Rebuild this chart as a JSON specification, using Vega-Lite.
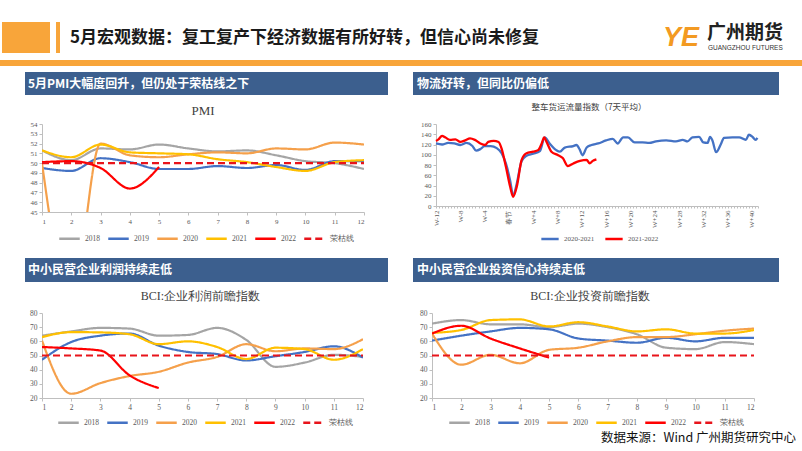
{
"$schema": "https://vega.github.io/schema/vega-lite/v6.json",
"padding": 0,
"background": "white",
"spacing": 0,
"resolve": {"scale": {"color": "independent", "strokeDash": "independent"}, "legend": {"color": "independent", "strokeDash": "independent"}},
"config": {
 "view": {"stroke": null},
 "concat": {"spacing": 0},
 "axis": {"labelFont": "Liberation Serif", "labelColor": "#595959", "labelFontSize": 7.5, "domainColor": "#BFBFBF", "tickColor": "#BFBFBF", "tickSize": 3, "grid": false, "labelPadding": 2},
 "legend": {"labelFont": "Liberation Serif", "labelColor": "#595959", "labelFontSize": 7.5, "symbolType": "stroke", "symbolStrokeWidth": 2.5, "symbolSize": 420, "labelOffset": 4, "columnPadding": 3, "padding": 0}
},
"datasets": {
 "pmi": [
  {"m":1,"s":"2018","v":51.3},{"m":2,"s":"2018","v":50.3},{"m":3,"s":"2018","v":51.5},{"m":4,"s":"2018","v":51.4},{"m":5,"s":"2018","v":51.9},{"m":6,"s":"2018","v":51.5},{"m":7,"s":"2018","v":51.2},{"m":8,"s":"2018","v":51.3},{"m":9,"s":"2018","v":50.8},{"m":10,"s":"2018","v":50.2},{"m":11,"s":"2018","v":50.0},{"m":12,"s":"2018","v":49.4},
  {"m":1,"s":"2019","v":49.5},{"m":2,"s":"2019","v":49.2},{"m":3,"s":"2019","v":50.5},{"m":4,"s":"2019","v":50.1},{"m":5,"s":"2019","v":49.4},{"m":6,"s":"2019","v":49.4},{"m":7,"s":"2019","v":49.7},{"m":8,"s":"2019","v":49.5},{"m":9,"s":"2019","v":49.8},{"m":10,"s":"2019","v":49.3},{"m":11,"s":"2019","v":50.2},{"m":12,"s":"2019","v":50.2},
  {"m":1,"s":"2020","v":50.0},{"m":2,"s":"2020","v":35.7},{"m":3,"s":"2020","v":52.0},{"m":4,"s":"2020","v":50.8},{"m":5,"s":"2020","v":50.6},{"m":6,"s":"2020","v":50.9},{"m":7,"s":"2020","v":51.1},{"m":8,"s":"2020","v":51.0},{"m":9,"s":"2020","v":51.5},{"m":10,"s":"2020","v":51.4},{"m":11,"s":"2020","v":52.1},{"m":12,"s":"2020","v":51.9},
  {"m":1,"s":"2021","v":51.3},{"m":2,"s":"2021","v":50.6},{"m":3,"s":"2021","v":51.9},{"m":4,"s":"2021","v":51.1},{"m":5,"s":"2021","v":51.0},{"m":6,"s":"2021","v":50.9},{"m":7,"s":"2021","v":50.4},{"m":8,"s":"2021","v":50.1},{"m":9,"s":"2021","v":49.6},{"m":10,"s":"2021","v":49.2},{"m":11,"s":"2021","v":50.1},{"m":12,"s":"2021","v":50.3},
  {"m":1,"s":"2022","v":50.1},{"m":2,"s":"2022","v":50.2},{"m":3,"s":"2022","v":49.5},{"m":4,"s":"2022","v":47.4},{"m":5,"s":"2022","v":49.6},
  {"m":1,"s":"荣枯线","v":50},{"m":2,"s":"荣枯线","v":50},{"m":3,"s":"荣枯线","v":50},{"m":4,"s":"荣枯线","v":50},{"m":5,"s":"荣枯线","v":50},{"m":6,"s":"荣枯线","v":50},{"m":7,"s":"荣枯线","v":50},{"m":8,"s":"荣枯线","v":50},{"m":9,"s":"荣枯线","v":50},{"m":10,"s":"荣枯线","v":50},{"m":11,"s":"荣枯线","v":50},{"m":12,"s":"荣枯线","v":50}
 ],
 "freight": [
  {"w":-12,"s":"2020-2021","v":122},{"w":-11,"s":"2020-2021","v":120},{"w":-10,"s":"2020-2021","v":123},{"w":-9,"s":"2020-2021","v":122},{"w":-8,"s":"2020-2021","v":119},{"w":-7,"s":"2020-2021","v":123},{"w":-6,"s":"2020-2021","v":117},{"w":-5.4,"s":"2020-2021","v":108},{"w":-4.7,"s":"2020-2021","v":111},{"w":-4,"s":"2020-2021","v":117},{"w":-3,"s":"2020-2021","v":117},{"w":-2,"s":"2020-2021","v":113},{"w":-1.2,"s":"2020-2021","v":103},{"w":-0.5,"s":"2020-2021","v":83},{"w":0.2,"s":"2020-2021","v":50},{"w":0.7,"s":"2020-2021","v":20},{"w":1.3,"s":"2020-2021","v":44},{"w":2.1,"s":"2020-2021","v":88},{"w":2.9,"s":"2020-2021","v":98},{"w":4,"s":"2020-2021","v":102},{"w":5.1,"s":"2020-2021","v":107},{"w":5.9,"s":"2020-2021","v":134},{"w":6.7,"s":"2020-2021","v":122},{"w":7.8,"s":"2020-2021","v":109},{"w":8.4,"s":"2020-2021","v":106},{"w":9.2,"s":"2020-2021","v":114},{"w":10.6,"s":"2020-2021","v":117},{"w":11.1,"s":"2020-2021","v":119},{"w":11.7,"s":"2020-2021","v":109},{"w":12.1,"s":"2020-2021","v":99},{"w":12.8,"s":"2020-2021","v":114},{"w":13.6,"s":"2020-2021","v":119},{"w":14.7,"s":"2020-2021","v":122},{"w":16,"s":"2020-2021","v":128},{"w":17.1,"s":"2020-2021","v":131},{"w":17.9,"s":"2020-2021","v":122},{"w":18.8,"s":"2020-2021","v":134},{"w":19.6,"s":"2020-2021","v":134},{"w":20.7,"s":"2020-2021","v":124},{"w":22,"s":"2020-2021","v":124},{"w":23.1,"s":"2020-2021","v":123},{"w":24.2,"s":"2020-2021","v":126},{"w":25.9,"s":"2020-2021","v":128},{"w":27.5,"s":"2020-2021","v":126},{"w":28.6,"s":"2020-2021","v":129},{"w":29.4,"s":"2020-2021","v":126},{"w":30.2,"s":"2020-2021","v":134},{"w":31.3,"s":"2020-2021","v":135},{"w":32,"s":"2020-2021","v":124},{"w":32.7,"s":"2020-2021","v":123},{"w":33.1,"s":"2020-2021","v":135},{"w":33.5,"s":"2020-2021","v":128},{"w":34.1,"s":"2020-2021","v":105},{"w":34.9,"s":"2020-2021","v":121},{"w":35.4,"s":"2020-2021","v":133},{"w":36.8,"s":"2020-2021","v":134},{"w":37.9,"s":"2020-2021","v":134},{"w":39,"s":"2020-2021","v":129},{"w":39.5,"s":"2020-2021","v":139},{"w":40.1,"s":"2020-2021","v":135},{"w":40.6,"s":"2020-2021","v":129},{"w":40.9,"s":"2020-2021","v":133},
  {"w":-12,"s":"2021-2022","v":127},{"w":-11.6,"s":"2021-2022","v":130},{"w":-11,"s":"2021-2022","v":137},{"w":-10.5,"s":"2021-2022","v":134},{"w":-9.7,"s":"2021-2022","v":129},{"w":-8.8,"s":"2021-2022","v":130},{"w":-8,"s":"2021-2022","v":125},{"w":-7.2,"s":"2021-2022","v":128},{"w":-6.4,"s":"2021-2022","v":132},{"w":-5.6,"s":"2021-2022","v":129},{"w":-4.7,"s":"2021-2022","v":122},{"w":-3.9,"s":"2021-2022","v":119},{"w":-3.4,"s":"2021-2022","v":125},{"w":-2.5,"s":"2021-2022","v":127},{"w":-1.7,"s":"2021-2022","v":125},{"w":-1.2,"s":"2021-2022","v":112},{"w":-0.5,"s":"2021-2022","v":77},{"w":0.2,"s":"2021-2022","v":38},{"w":0.7,"s":"2021-2022","v":18},{"w":1.3,"s":"2021-2022","v":38},{"w":2.1,"s":"2021-2022","v":90},{"w":2.9,"s":"2021-2022","v":103},{"w":4,"s":"2021-2022","v":106},{"w":4.8,"s":"2021-2022","v":109},{"w":5.4,"s":"2021-2022","v":122},{"w":5.8,"s":"2021-2022","v":134},{"w":6.2,"s":"2021-2022","v":125},{"w":7,"s":"2021-2022","v":106},{"w":8.1,"s":"2021-2022","v":99},{"w":8.9,"s":"2021-2022","v":93},{"w":9.7,"s":"2021-2022","v":78},{"w":10.6,"s":"2021-2022","v":83},{"w":11.7,"s":"2021-2022","v":88},{"w":12.8,"s":"2021-2022","v":90},{"w":13.3,"s":"2021-2022","v":83},{"w":13.8,"s":"2021-2022","v":88},{"w":14.4,"s":"2021-2022","v":91}
 ],
 "profit": [
  {"m":1,"s":"2018","v":64},{"m":2,"s":"2018","v":67},{"m":3,"s":"2018","v":69.5},{"m":4,"s":"2018","v":69},{"m":5,"s":"2018","v":64},{"m":6,"s":"2018","v":64.5},{"m":7,"s":"2018","v":69.5},{"m":8,"s":"2018","v":61},{"m":9,"s":"2018","v":42},{"m":10,"s":"2018","v":45},{"m":11,"s":"2018","v":50.5},{"m":12,"s":"2018","v":49},
  {"m":1,"s":"2019","v":47},{"m":2,"s":"2019","v":59.5},{"m":3,"s":"2019","v":64},{"m":4,"s":"2019","v":65.5},{"m":5,"s":"2019","v":57},{"m":6,"s":"2019","v":52.5},{"m":7,"s":"2019","v":51},{"m":8,"s":"2019","v":46.5},{"m":9,"s":"2019","v":49.5},{"m":10,"s":"2019","v":52.5},{"m":11,"s":"2019","v":56.5},{"m":12,"s":"2019","v":48.5},
  {"m":1,"s":"2020","v":60.5},{"m":2,"s":"2020","v":23},{"m":3,"s":"2020","v":30.5},{"m":4,"s":"2020","v":35.5},{"m":5,"s":"2020","v":38.5},{"m":6,"s":"2020","v":45},{"m":7,"s":"2020","v":49},{"m":8,"s":"2020","v":58},{"m":9,"s":"2020","v":53},{"m":10,"s":"2020","v":55},{"m":11,"s":"2020","v":54.5},{"m":12,"s":"2020","v":61.5},
  {"m":1,"s":"2021","v":63},{"m":2,"s":"2021","v":66.5},{"m":3,"s":"2021","v":66.3},{"m":4,"s":"2021","v":65},{"m":5,"s":"2021","v":58},{"m":6,"s":"2021","v":60},{"m":7,"s":"2021","v":56},{"m":8,"s":"2021","v":47.5},{"m":9,"s":"2021","v":55.5},{"m":10,"s":"2021","v":54.5},{"m":11,"s":"2021","v":47},{"m":12,"s":"2021","v":54.5},
  {"m":1,"s":"2022","v":56},{"m":2,"s":"2022","v":55},{"m":3,"s":"2022","v":53.5},{"m":4,"s":"2022","v":36},{"m":5,"s":"2022","v":27},
  {"m":1,"s":"荣枯线","v":50},{"m":2,"s":"荣枯线","v":50},{"m":3,"s":"荣枯线","v":50},{"m":4,"s":"荣枯线","v":50},{"m":5,"s":"荣枯线","v":50},{"m":6,"s":"荣枯线","v":50},{"m":7,"s":"荣枯线","v":50},{"m":8,"s":"荣枯线","v":50},{"m":9,"s":"荣枯线","v":50},{"m":10,"s":"荣枯线","v":50},{"m":11,"s":"荣枯线","v":50},{"m":12,"s":"荣枯线","v":50}
 ],
 "invest": [
  {"m":1,"s":"2018","v":72.5},{"m":2,"s":"2018","v":75},{"m":3,"s":"2018","v":72},{"m":4,"s":"2018","v":72},{"m":5,"s":"2018","v":70},{"m":6,"s":"2018","v":72.5},{"m":7,"s":"2018","v":70},{"m":8,"s":"2018","v":65},{"m":9,"s":"2018","v":55.5},{"m":10,"s":"2018","v":54.5},{"m":11,"s":"2018","v":59.5},{"m":12,"s":"2018","v":58},
  {"m":1,"s":"2019","v":60.5},{"m":2,"s":"2019","v":64},{"m":3,"s":"2019","v":67},{"m":4,"s":"2019","v":69.5},{"m":5,"s":"2019","v":68.5},{"m":6,"s":"2019","v":62},{"m":7,"s":"2019","v":60.5},{"m":8,"s":"2019","v":59},{"m":9,"s":"2019","v":62.5},{"m":10,"s":"2019","v":60},{"m":11,"s":"2019","v":62.5},{"m":12,"s":"2019","v":62.5},
  {"m":1,"s":"2020","v":65.5},{"m":2,"s":"2020","v":43.5},{"m":3,"s":"2020","v":50.5},{"m":4,"s":"2020","v":44.5},{"m":5,"s":"2020","v":54},{"m":6,"s":"2020","v":55.5},{"m":7,"s":"2020","v":60},{"m":8,"s":"2020","v":63},{"m":9,"s":"2020","v":63},{"m":10,"s":"2020","v":65},{"m":11,"s":"2020","v":67.5},{"m":12,"s":"2020","v":69},
  {"m":1,"s":"2021","v":66},{"m":2,"s":"2021","v":68},{"m":3,"s":"2021","v":75},{"m":4,"s":"2021","v":75.5},{"m":5,"s":"2021","v":70.5},{"m":6,"s":"2021","v":73.5},{"m":7,"s":"2021","v":70.5},{"m":8,"s":"2021","v":67},{"m":9,"s":"2021","v":68.5},{"m":10,"s":"2021","v":65.5},{"m":11,"s":"2021","v":65.5},{"m":12,"s":"2021","v":68},
  {"m":1,"s":"2022","v":65.5},{"m":2,"s":"2022","v":71},{"m":3,"s":"2022","v":62},{"m":4,"s":"2022","v":55},{"m":5,"s":"2022","v":48.5},
  {"m":1,"s":"荣枯线","v":50},{"m":2,"s":"荣枯线","v":50},{"m":3,"s":"荣枯线","v":50},{"m":4,"s":"荣枯线","v":50},{"m":5,"s":"荣枯线","v":50},{"m":6,"s":"荣枯线","v":50},{"m":7,"s":"荣枯线","v":50},{"m":8,"s":"荣枯线","v":50},{"m":9,"s":"荣枯线","v":50},{"m":10,"s":"荣枯线","v":50},{"m":11,"s":"荣枯线","v":50},{"m":12,"s":"荣枯线","v":50}
 ]
},
"vconcat": [
 {"width": 802, "height": 22, "data": {"values": []}, "mark": "text", "encoding": {"text": {"value": ""}}},
 {"bounds": "flush", "hconcat": [
  {"width": 2, "height": 31, "data": {"values": []}, "mark": "text", "encoding": {"text": {"value": ""}}},
  {"width": 48, "height": 31, "view": {"fill": "#F8A53A", "stroke": null}, "data": {"values": []}, "mark": "text", "encoding": {"text": {"value": ""}}},
  {"width": 6, "height": 31, "data": {"values": []}, "mark": "text", "encoding": {"text": {"value": ""}}},
  {"width": 4, "height": 31, "view": {"fill": "#F8A53A", "stroke": null}, "data": {"values": []}, "mark": "text", "encoding": {"text": {"value": ""}}},
  {"width": 8, "height": 31, "data": {"values": []}, "mark": "text", "encoding": {"text": {"value": ""}}},
  {"width": 590, "height": 31, "data": {"values": [{}]}, "mark": {"type": "text", "align": "left", "baseline": "middle", "dx": 2, "fontSize": 17, "fontWeight": "bold", "font": "Noto Sans CJK SC", "color": "#1A1A1A"}, "encoding": {"x": {"datum": 0, "type": "quantitative", "scale": {"domain": [0, 1]}, "axis": null}, "text": {"value": "5月宏观数据：复工复产下经济数据有所好转，但信心尚未修复"}}},
  {"width": 46, "height": 31, "data": {"values": [{}]}, "mark": {"type": "text", "baseline": "middle", "fontSize": 27, "fontWeight": "bold", "fontStyle": "italic", "font": "Liberation Sans", "color": "#F39A22"}, "encoding": {"text": {"value": "YE"}}},
  {"width": 92, "height": 31, "data": {"values": [{}]}, "layer": [
   {"mark": {"type": "text", "align": "left", "baseline": "middle", "dx": 3, "dy": -5, "fontSize": 19, "fontWeight": "bold", "font": "Noto Sans CJK SC", "color": "#222222"}, "encoding": {"x": {"datum": 0, "type": "quantitative", "scale": {"domain": [0, 1]}, "axis": null}, "text": {"value": "广州期货"}}},
   {"mark": {"type": "text", "align": "left", "baseline": "middle", "dx": 4, "dy": 10, "fontSize": 6.5, "font": "Liberation Sans", "color": "#333333"}, "encoding": {"x": {"datum": 0, "type": "quantitative", "scale": {"domain": [0, 1]}, "axis": null}, "text": {"value": "GUANGZHOU  FUTURES"}}}
  ]}
 ]},
 {"width": 802, "height": 7, "data": {"values": []}, "mark": "text", "encoding": {"text": {"value": ""}}},
 {"width": 802, "height": 6, "view": {"fill": "#F8A53A", "stroke": null}, "data": {"values": []}, "mark": "text", "encoding": {"text": {"value": ""}}},
 {"width": 802, "height": 6, "data": {"values": []}, "mark": "text", "encoding": {"text": {"value": ""}}},
 {"bounds": "flush", "hconcat": [
  {"width": 25, "height": 23, "data": {"values": []}, "mark": "text", "encoding": {"text": {"value": ""}}},
  {"width": 363, "height": 23, "view": {"fill": "#3C5F8E", "stroke": null}, "data": {"values": [{}]}, "mark": {"type": "text", "align": "left", "baseline": "middle", "dx": 3, "fontSize": 12, "fontWeight": "bold", "font": "Noto Sans CJK SC", "color": "white"}, "encoding": {"x": {"datum": 0, "type": "quantitative", "scale": {"domain": [0, 1]}, "axis": null}, "text": {"value": "5月PMI大幅度回升，但仍处于荣枯线之下"}}},
  {"width": 25, "height": 23, "data": {"values": []}, "mark": "text", "encoding": {"text": {"value": ""}}},
  {"width": 366, "height": 23, "view": {"fill": "#3C5F8E", "stroke": null}, "data": {"values": [{}]}, "mark": {"type": "text", "align": "left", "baseline": "middle", "dx": 4, "fontSize": 12, "fontWeight": "bold", "font": "Noto Sans CJK SC", "color": "white"}, "encoding": {"x": {"datum": 0, "type": "quantitative", "scale": {"domain": [0, 1]}, "axis": null}, "text": {"value": "物流好转，但同比仍偏低"}}}
 ]},
 {"bounds": "flush", "hconcat": [
  {"width": 42, "height": 25, "data": {"values": []}, "mark": "text", "encoding": {"text": {"value": ""}}},
  {"width": 322, "height": 25, "data": {"values": [{}]}, "mark": {"type": "text", "baseline": "middle", "dy": 3.5, "fontSize": 13, "font": "Liberation Serif", "color": "#404040"}, "encoding": {"text": {"value": "PMI"}}},
  {"width": 72, "height": 25, "data": {"values": []}, "mark": "text", "encoding": {"text": {"value": ""}}},
  {"width": 322, "height": 25, "data": {"values": [{}]}, "mark": {"type": "text", "baseline": "middle", "dx": -8, "dy": -0.5, "fontSize": 8.5, "font": "Noto Sans CJK SC", "color": "#404040"}, "encoding": {"text": {"value": "整车货运流量指数（7天平均）"}}}
 ]},
 {"bounds": "flush", "resolve": {"scale": {"color": "independent", "strokeDash": "independent"}, "legend": {"color": "independent", "strokeDash": "independent"}}, "hconcat": [
  {"width": 42, "height": 134, "data": {"values": []}, "mark": "text", "encoding": {"text": {"value": ""}}},
  {"width": 322, "height": 88, "data": {"name": "pmi"},
   "mark": {"type": "line", "interpolate": "monotone", "strokeWidth": 2.2, "clip": true},
   "encoding": {
    "x": {"field": "m", "type": "quantitative", "scale": {"domain": [1, 12], "nice": false, "zero": false}, "axis": {"values": [1,2,3,4,5,6,7,8,9,10,11,12], "title": null, "labelFontSize": 7}},
    "y": {"field": "v", "type": "quantitative", "scale": {"domain": [45, 54], "nice": false, "zero": false}, "axis": {"values": [45,46,47,48,49,50,51,52,53,54], "title": null, "labelFontSize": 7}},
    "color": {"field": "s", "type": "nominal", "scale": {"domain": ["2018","2019","2020","2021","2022","荣枯线"], "range": ["#A5A5A5","#4472C4","#F5A04B","#FFC000","#FF0000","#E8141B"]}, "legend": {"orient": "none", "legendX": 16, "legendY": 103, "direction": "horizontal", "title": null}},
    "strokeDash": {"field": "s", "type": "nominal", "scale": {"domain": ["2018","2019","2020","2021","2022","荣枯线"], "range": [[1,0],[1,0],[1,0],[1,0],[1,0],[7,4]]}, "legend": {"orient": "none", "legendX": 16, "legendY": 103, "direction": "horizontal", "title": null}}
   }},
  {"width": 72, "height": 134, "data": {"values": []}, "mark": "text", "encoding": {"text": {"value": ""}}},
  {"width": 322, "height": 82, "data": {"name": "freight"},
   "mark": {"type": "line", "interpolate": "monotone", "strokeWidth": 2.3},
   "encoding": {
    "x": {"field": "w", "type": "quantitative", "scale": {"domain": [-12, 41], "nice": false, "zero": false}, "axis": {"values": [-12,-11.5,-11,-10.5,-10,-9.5,-9,-8.5,-8,-7.5,-7,-6.5,-6,-5.5,-5,-4.5,-4,-3.5,-3,-2.5,-2,-1.5,-1,-0.5,0,0.5,1,1.5,2,2.5,3,3.5,4,4.5,5,5.5,6,6.5,7,7.5,8,8.5,9,9.5,10,10.5,11,11.5,12,12.5,13,13.5,14,14.5,15,15.5,16,16.5,17,17.5,18,18.5,19,19.5,20,20.5,21,21.5,22,22.5,23,23.5,24,24.5,25,25.5,26,26.5,27,27.5,28,28.5,29,29.5,30,30.5,31,31.5,32,32.5,33,33.5,34,34.5,35,35.5,36,36.5,37,37.5,38,38.5,39,39.5,40,40.5,41], "labelExpr": "datum.value % 4 == 0 ? (datum.value == 0 ? '春节' : (datum.value < 0 ? 'W' + datum.value : 'W+' + datum.value)) : ''", "labelAngle": -90, "labelOverlap": false, "labelFontSize": 7, "tickSize": 2, "title": null}},
    "y": {"field": "v", "type": "quantitative", "scale": {"domain": [0, 160], "nice": false}, "axis": {"values": [0,20,40,60,80,100,120,140,160], "title": null, "labelFontSize": 7}},
    "color": {"field": "s", "type": "nominal", "scale": {"domain": ["2020-2021","2021-2022"], "range": ["#4472C4","#FF0000"]}, "legend": {"orient": "none", "legendX": 104, "legendY": 105, "direction": "horizontal", "title": null, "symbolSize": 300, "columnPadding": 5, "labelFontSize": 7}}
   }}
 ]},
 {"bounds": "flush", "hconcat": [
  {"width": 25, "height": 24, "data": {"values": []}, "mark": "text", "encoding": {"text": {"value": ""}}},
  {"width": 363, "height": 24, "view": {"fill": "#3C5F8E", "stroke": null}, "data": {"values": [{}]}, "mark": {"type": "text", "align": "left", "baseline": "middle", "dx": 3, "fontSize": 12, "fontWeight": "bold", "font": "Noto Sans CJK SC", "color": "white"}, "encoding": {"x": {"datum": 0, "type": "quantitative", "scale": {"domain": [0, 1]}, "axis": null}, "text": {"value": "中小民营企业利润持续走低"}}},
  {"width": 25, "height": 24, "data": {"values": []}, "mark": "text", "encoding": {"text": {"value": ""}}},
  {"width": 366, "height": 24, "view": {"fill": "#3C5F8E", "stroke": null}, "data": {"values": [{}]}, "mark": {"type": "text", "align": "left", "baseline": "middle", "dx": 4, "fontSize": 12, "fontWeight": "bold", "font": "Noto Sans CJK SC", "color": "white"}, "encoding": {"x": {"datum": 0, "type": "quantitative", "scale": {"domain": [0, 1]}, "axis": null}, "text": {"value": "中小民营企业投资信心持续走低"}}}
 ]},
 {"bounds": "flush", "hconcat": [
  {"width": 42, "height": 27, "data": {"values": []}, "mark": "text", "encoding": {"text": {"value": ""}}},
  {"width": 321, "height": 27, "data": {"values": [{}]}, "mark": {"type": "text", "baseline": "middle", "dx": -2, "fontSize": 12, "font": "Liberation Serif", "color": "#404040"}, "encoding": {"text": {"value": "BCI:企业利润前瞻指数"}}},
  {"width": 69, "height": 27, "data": {"values": []}, "mark": "text", "encoding": {"text": {"value": ""}}},
  {"width": 322, "height": 27, "data": {"values": [{}]}, "mark": {"type": "text", "baseline": "middle", "dx": -3, "fontSize": 12, "font": "Liberation Serif", "color": "#404040"}, "encoding": {"text": {"value": "BCI:企业投资前瞻指数"}}}
 ]},
 {"bounds": "flush", "resolve": {"scale": {"color": "independent", "strokeDash": "independent"}, "legend": {"color": "independent", "strokeDash": "independent"}}, "hconcat": [
  {"width": 42, "height": 117, "data": {"values": []}, "mark": "text", "encoding": {"text": {"value": ""}}},
  {"width": 321, "height": 85, "data": {"name": "profit"},
   "mark": {"type": "line", "interpolate": "monotone", "strokeWidth": 2.2, "clip": true},
   "encoding": {
    "x": {"field": "m", "type": "quantitative", "scale": {"domain": [1, 12], "nice": false, "zero": false}, "axis": {"values": [1,2,3,4,5,6,7,8,9,10,11,12], "title": null}},
    "y": {"field": "v", "type": "quantitative", "scale": {"domain": [20, 80], "nice": false, "zero": false}, "axis": {"values": [20,30,40,50,60,70,80], "title": null}},
    "color": {"field": "s", "type": "nominal", "scale": {"domain": ["2018","2019","2020","2021","2022","荣枯线"], "range": ["#A5A5A5","#4472C4","#F5A04B","#FFC000","#FF0000","#E8141B"]}, "legend": {"orient": "none", "legendX": 15, "legendY": 98, "direction": "horizontal", "title": null}},
    "strokeDash": {"field": "s", "type": "nominal", "scale": {"domain": ["2018","2019","2020","2021","2022","荣枯线"], "range": [[1,0],[1,0],[1,0],[1,0],[1,0],[7,4]]}, "legend": {"orient": "none", "legendX": 15, "legendY": 98, "direction": "horizontal", "title": null}}
   }},
  {"width": 69, "height": 117, "data": {"values": []}, "mark": "text", "encoding": {"text": {"value": ""}}},
  {"width": 322, "height": 85, "data": {"name": "invest"},
   "mark": {"type": "line", "interpolate": "monotone", "strokeWidth": 2.2, "clip": true},
   "encoding": {
    "x": {"field": "m", "type": "quantitative", "scale": {"domain": [1, 12], "nice": false, "zero": false}, "axis": {"values": [1,2,3,4,5,6,7,8,9,10,11,12], "title": null}},
    "y": {"field": "v", "type": "quantitative", "scale": {"domain": [20, 80], "nice": false, "zero": false}, "axis": {"values": [20,30,40,50,60,70,80], "title": null}},
    "color": {"field": "s", "type": "nominal", "scale": {"domain": ["2018","2019","2020","2021","2022","荣枯线"], "range": ["#A5A5A5","#4472C4","#F5A04B","#FFC000","#FF0000","#E8141B"]}, "legend": {"orient": "none", "legendX": 16, "legendY": 98, "direction": "horizontal", "title": null}},
    "strokeDash": {"field": "s", "type": "nominal", "scale": {"domain": ["2018","2019","2020","2021","2022","荣枯线"], "range": [[1,0],[1,0],[1,0],[1,0],[1,0],[7,4]]}, "legend": {"orient": "none", "legendX": 16, "legendY": 98, "direction": "horizontal", "title": null}}
   }},
  {"width": 42, "height": 132, "data": {"values": [{}]}, "mark": {"type": "text", "align": "right", "baseline": "bottom", "fontSize": 12.5, "font": "Noto Sans CJK SC", "color": "#111111"}, "encoding": {"x": {"datum": 1, "type": "quantitative", "scale": {"domain": [0, 1]}, "axis": null}, "y": {"datum": 0, "type": "quantitative", "scale": {"domain": [0, 1]}, "axis": null}, "text": {"value": "数据来源：Wind 广州期货研究中心"}}}
 ]}
]
}
